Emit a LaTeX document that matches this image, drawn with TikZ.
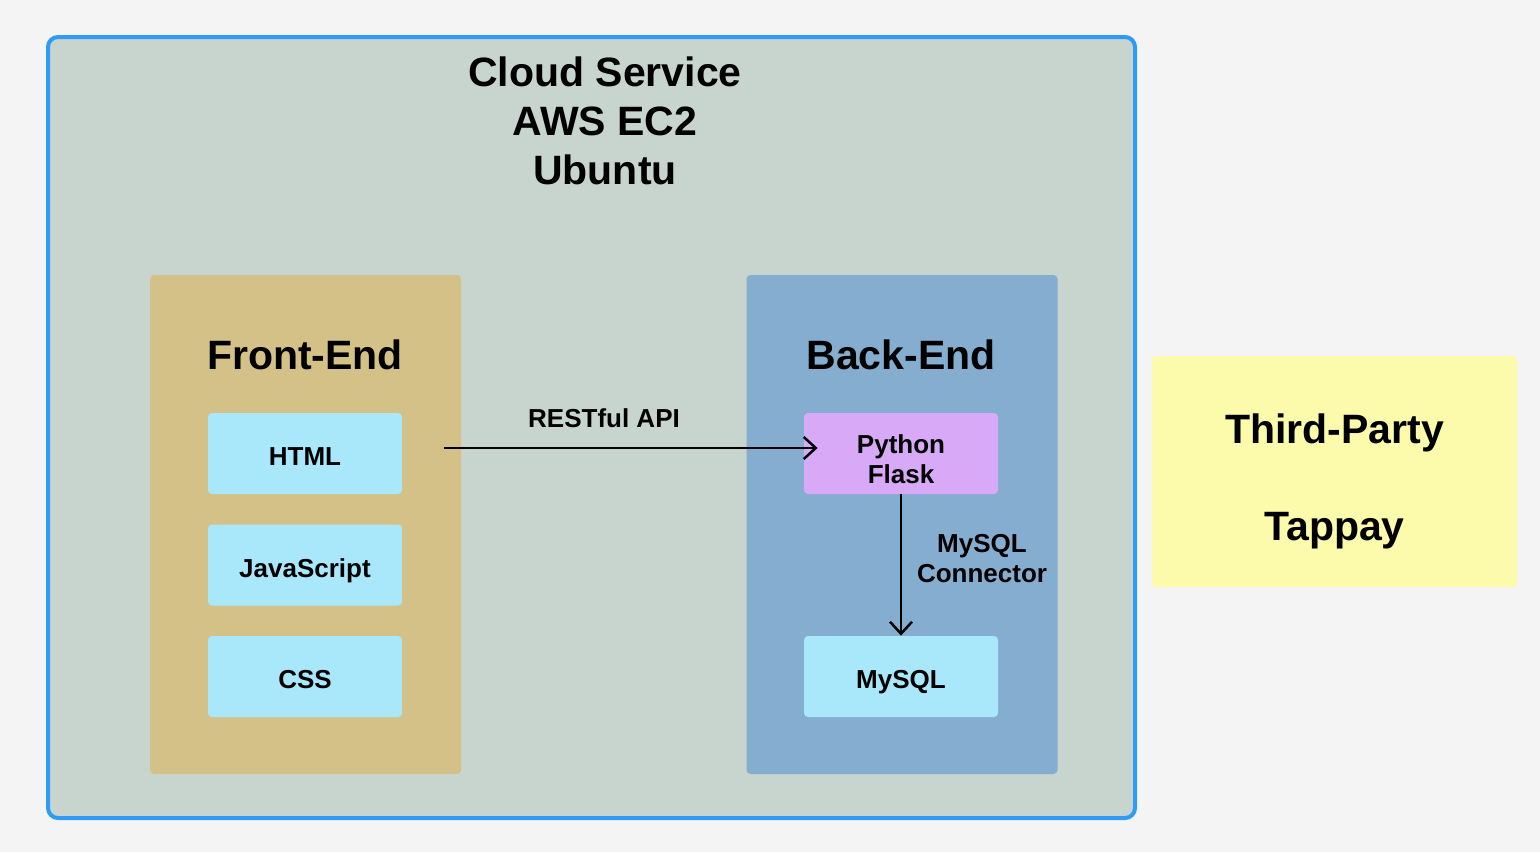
\documentclass[tikz,border=0pt]{standalone}
\usepackage{xcolor}
\usepackage{fontspec}
\setmainfont{Liberation Sans}
\usetikzlibrary{arrows.meta, positioning}

\definecolor{bgcol}{HTML}{F4F4F4}
\definecolor{cloudfill}{HTML}{C8D5CF}
\definecolor{cloudline}{HTML}{2E9BF6}
\definecolor{frontfill}{HTML}{D4C187}
\definecolor{backfill}{HTML}{85ADD0}
\definecolor{leaffill}{HTML}{A9E8FB}
\definecolor{flaskfill}{HTML}{D8A9F7}
\definecolor{thirdfill}{HTML}{FBFBAB}

\newcommand\bigtxt{\fontsize{20.5}{24.5}\selectfont\bfseries}
\newcommand\smalltxt{\fontsize{13}{15}\selectfont\bfseries}

\begin{document}
\begin{tikzpicture}[x=0.5pt,y=-0.5pt]
        \path[fill=bgcol,use as bounding box] (0,0) rectangle (1540,852);
        \node[draw=cloudline,line width=2pt,fill=cloudfill,rounded corners=5pt,
              minimum width=543.5pt,minimum height=390.5pt] (cloud) at (591.5,427.5) {};
        \node[font=\bigtxt,align=center] (title) at (605,121) {Cloud Service\\AWS EC2\\Ubuntu};
        \begin{scope}[every node/.style={rounded corners=2pt,minimum width=155.5pt,minimum height=249.5pt}]
          \node[fill=frontfill] (front) at (305.5,524.5) {};
          \node[fill=backfill] (back) at (902,524.5) {};
          \node[fill=thirdfill,minimum width=182.5pt,minimum height=115.5pt] (third) at (1334.5,471.5) {};
        \end{scope}
        \begin{scope}[every node/.style={font=\bigtxt,align=center}]
          \node (fronttitle) at (305,355) {Front-End};
          \node (backtitle) at (901,355) {Back-End};
          \node (thirdtitle) at (1334.5,481) {Third-Party\\[24pt]Tappay};
        \end{scope}
        \begin{scope}[every node/.style={font=\smalltxt,align=center,fill=leaffill,rounded corners=2pt,
                      minimum width=97pt,minimum height=40.5pt,text height=12.3pt,text depth=0pt}]
          \node (html) at (305,453.5) {HTML};
          \node (js) at (305,565) {JavaScript};
          \node (css) at (305,676.5) {CSS};
          \node[fill=flaskfill,text height=30pt] (flask) at (901,453.5) {Python\\Flask};
          \node (mysql) at (901,676.5) {MySQL};
        \end{scope}
        \node[font=\smalltxt] (restlbl) at (604,418) {RESTful API};
        \node[font=\smalltxt,align=center] (connlbl) at (982,559) {MySQL\\Connector};
        \coordinate (api) at (444,448);
        \begin{scope}[every edge/.style={draw=black,line width=1.25pt,-{Straight Barb[length=6pt,width=11pt]}}]
          \path (api) edge[shorten >=-7pt] (api -| flask.west);
          \path (flask) edge (mysql);
        \end{scope}
      \end{tikzpicture}
\end{document}
